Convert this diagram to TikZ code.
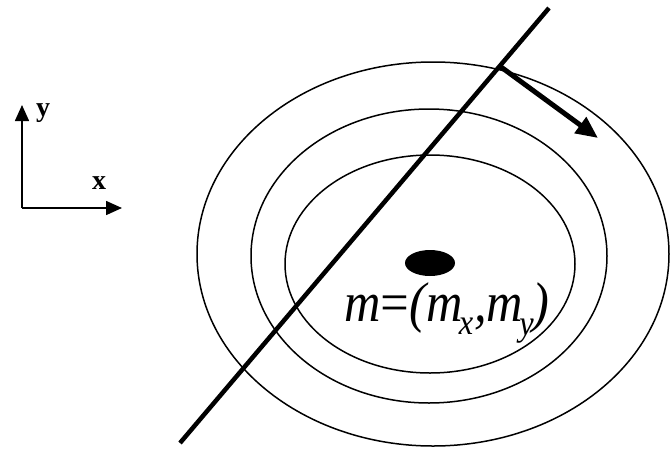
\documentclass[tikz,border=0pt]{standalone}
\usepackage{fontspec}
\setmainfont{Liberation Serif}
\usetikzlibrary{arrows.meta}
\begin{document}
\begin{tikzpicture}[x=1pt,y=-1pt,
  contour/.style={draw=black,line width=1.5pt},
  axis/.style={line width=1.6pt,-{Triangle[length=16pt,width=14pt]}},
  lbl/.style={inner sep=0pt,font=\fontsize{28}{30}\selectfont\bfseries}]
\useasboundingbox (0,0) rectangle (670,464);
% axes
\coordinate (o) at (22,208);
\coordinate (ytip) at (22,105);
\coordinate (xtip) at (122,208);
\draw[axis] (o) -- (ytip);
\draw[axis] (o) -- (xtip);
\node[lbl,anchor=base west] (ylab) at (36,116) {y};
\node[lbl,anchor=base west] (xlab) at (92,189) {x};
% contours
\draw[contour] (433,254) ellipse [x radius=236, y radius=192];
\draw[contour] (429,256) ellipse [x radius=178, y radius=147];
\draw[contour] (430,264) ellipse [x radius=145, y radius=109];
% mean
\fill (430,263) ellipse [x radius=25, y radius=13];
\node[inner sep=0pt,anchor=base west,font=\fontsize{56}{60}\selectfont\itshape] (mlab) at (344,321)
  {\scalebox{0.9}[1]{m\kern-3pt=\kern-3pt(m\kern-4pt\raisebox{-13pt}{\fontsize{36}{38}\selectfont x}\kern1pt,m\kern-4pt\raisebox{-14pt}{\fontsize{36}{38}\selectfont y}\kern-2pt)}};
% line
\coordinate (l1) at (549,8);
\coordinate (l2) at (180,443);
\draw[line width=4.5pt] (l1) -- (l2);
% normal arrow
\coordinate (a1) at (501,67);
\coordinate (a2) at (598,138);
\draw[line width=5pt,-{Triangle[length=22pt,width=19pt]}] (a1) -- (a2);
\end{tikzpicture}
\end{document}
